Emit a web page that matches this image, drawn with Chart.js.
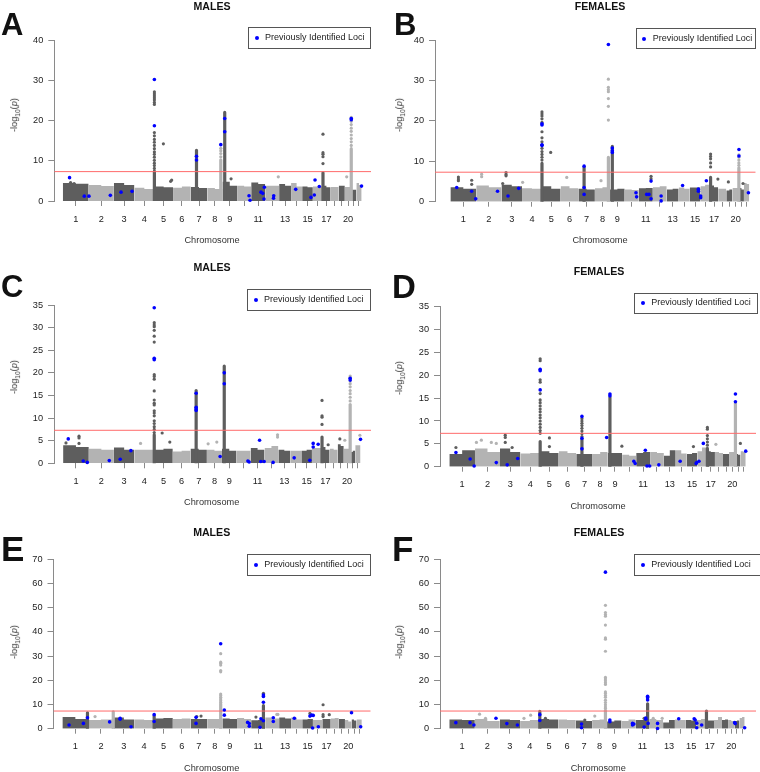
<!DOCTYPE html>
<html>
<head>
<meta charset="utf-8">
<script src="https://cdn.jsdelivr.net/npm/chart.js@4.4.1/dist/chart.umd.min.js"></script>
<style>
  body { margin: 0; background: #fff; font-family: "Liberation Sans", Arial, sans-serif; }
  #fig { position: relative; width: 760px; height: 772px; overflow: hidden; background: #fff; }
  #fig canvas { position: absolute; }
  .letter { position: absolute; font-weight: bold; line-height: 1; color: #111; }
  .title { position: absolute; font-weight: bold; font-size: 10.6px; color: #111; transform: translate(-50%, -50%); white-space: nowrap; }
  .xlab { position: absolute; font-size: 9.2px; color: #333; transform: translate(-50%, -50%); white-space: nowrap; }
  .ylab { position: absolute; font-size: 9.2px; color: #333; transform: translate(-50%, -50%) rotate(-90deg); white-space: nowrap; }
  .legend { position: absolute; box-sizing: border-box; border: 1px solid #555; background: #fff; font-size: 9px; color: #222; white-space: nowrap; }
  .legend .dot { position: absolute; left: 5.5px; width: 4px; height: 4px; border-radius: 50%; background: #0000ff; }
  .legend .txt { position: absolute; left: 16px; }
</style>
</head>
<body>
<div id="fig"></div>
<script>
// chromosome lengths (Mb) and which centres get a label
const CHR_LEN = [249, 243, 198, 191, 181, 171, 159, 146, 141, 136, 135, 134, 115, 107, 103, 90, 81, 78, 59, 63, 48, 51]
const CHR_LABELS = ['1', '2', '3', '4', '5', '6', '7', '8', '9', '', '11', '', '13', '', '15', '', '17', '', '', '20', '', '']
const GWS = 7.3

// band = top of the dense cloud per chromosome [first half, second half]
// cols = dense columns [chr, pos Mb, top], stacks = dotted points above them
// dots = isolated grey points, loci = previously identified (blue)
const bandA = [[4.5, 4.3], [4.0, 3.7], [4.5, 4.0], [3.3, 3.0], [3.6, 3.4], [3.3, 3.6], [3.5, 3.2], [3.2, 3.0], [4.8, 3.8], [3.8, 3.6], [4.6, 4.2], [3.8, 3.8], [4.2, 3.8], [4.5, 3.6], [3.6, 3.4], [3.6, 3.6], [3.8, 3.4], [3.5, 3.5], [3.8, 3.8], [3.5, 3.5], [2.8, 2.8], [4.5, 4.0]]
const colsA = [[5, 1.3, 7.4], [7, 55, 12.6], [8, 130, 10.2], [9, 22, 22.0], [17, 7.6, 7.0], [20, 62, 13.0]]
const stacksA = [
  [5, 1.3, [8.1, 8.8, 9.4, 10.1, 10.9, 11.6, 12.2, 13.0, 13.8, 14.6, 15.3, 16.2, 17.0, 24.0, 24.5, 25.1, 25.6, 26.1, 26.6, 27.1]],
  [8, 130, [11.0, 11.8, 12.5, 13.1]],
  [17, 7.6, [9.3, 11.0, 11.6, 12.0, 16.6]],
  [20, 62, [13.8, 14.7, 15.5, 16.4, 17.3, 18.1, 19.0, 19.8, 20.8]],
]
const dotsA = [[1, 109, 4.3], [1, 75, 4.6], [5, 88, 14.2], [5, 158, 4.9], [5, 168, 5.2], [9, 83, 5.5], [12, 126, 6.0], [20, 18, 6.0]]
const lociA = [[1, 65, 5.8], [1, 207, 1.2], [2, 3, 1.2], [2, 209, 1.4], [3, 69, 2.2], [3, 175, 2.4], [5, 1.3, 30.2], [5, 1.3, 18.7], [7, 55, 11.1], [7, 55, 10.2], [8, 130, 14.0], [9, 22, 20.5], [9, 22, 17.2], [10, 115, 1.3], [10, 125, 0.2], [11, 94, 2.2], [11, 111, 1.9], [11, 127, 3.4], [11, 123, 0.5], [12, 82, 1.3], [12, 80, 0.7], [14, 45, 2.9], [15, 85, 0.9], [16, 14, 1.5], [16, 21, 5.2], [16, 62, 3.6], [20, 62, 20.5], [20, 62, 20.2], [22, 50, 3.7]]

const bandB = [[3.6, 3.2], [4.0, 3.6], [4.2, 3.8], [3.3, 3.2], [3.8, 3.2], [3.8, 3.3], [3.2, 3.0], [3.3, 3.6], [3.0, 3.2], [3.0, 2.9], [3.3, 3.4], [3.6, 3.8], [3.0, 3.2], [3.5, 3.2], [3.5, 3.5], [3.8, 4.2], [4.0, 3.6], [3.2, 3.2], [2.8, 3.0], [3.4, 3.4], [3.4, 3.0], [4.6, 4.4]]
const colsB = [[5, 1.3, 9.5], [7, 55, 8.5], [8, 130, 11.0], [9, 22, 13.7], [17, 7.6, 6.0], [20, 62, 8.4]]
const stacksB = [
  [5, 1.3, [10.3, 11.0, 11.7, 12.4, 13.2, 14.0, 14.8, 15.8, 17.3, 19.6, 20.5, 21.2, 21.7, 22.2]],
  [8, 130, [20.2, 23.6, 25.5, 27.2, 27.7, 28.3, 30.3]],
  [17, 7.6, [8.6, 9.6, 10.6, 11.2, 11.8]],
  [20, 62, [9.0, 9.6, 10.3, 11.0, 11.6]],
]
const dotsB = [[1, 77, 6.1], [1, 77, 5.6], [1, 77, 5.2], [1, 205, 5.3], [1, 205, 4.3], [2, 52, 6.8], [2, 52, 6.2], [3, 44, 7.2], [3, 44, 6.7], [3, 44, 6.4], [3, 12, 4.5], [4, 6, 4.8], [5, 85, 12.2], [6, 59, 6.0], [8, 59, 5.2], [11, 118, 6.3], [11, 118, 5.7], [17, 78, 5.6], [19, 20, 4.9], [21, 39, 4.5]]
const lociB = [[1, 61, 3.5], [1, 205, 2.6], [1, 244, 0.7], [2, 205, 2.6], [3, 63, 1.4], [3, 166, 3.3], [5, 1.3, 19.3], [5, 1.3, 19.0], [5, 1.3, 14.1], [5, 1.3, 13.9], [7, 55, 8.8], [7, 55, 3.5], [7, 55, 1.8], [8, 130, 38.9], [9, 22, 13.3], [9, 22, 12.6], [9, 22, 12.2], [10, 109, 2.2], [10, 115, 1.2], [11, 76, 1.8], [11, 98, 1.8], [11, 118, 5.1], [11, 118, 0.7], [12, 80, 1.4], [12, 80, 0.2], [14, 38, 4.0], [15, 83, 3.1], [15, 83, 2.6], [16, 2, 1.4], [16, 2, 1.0], [16, 57, 5.2], [20, 63, 12.9], [20, 63, 11.3], [22, 43, 2.2]]

const bandC = [[4.0, 3.6], [3.2, 3.0], [3.5, 3.0], [3.0, 3.0], [3.0, 3.2], [2.6, 2.8], [3.2, 3.0], [3.0, 2.8], [3.2, 2.8], [2.8, 2.8], [3.4, 3.0], [3.4, 3.8], [3.0, 2.8], [2.8, 2.8], [2.8, 3.0], [3.4, 3.4], [3.6, 3.0], [3.2, 3.0], [4.2, 3.8], [3.2, 3.2], [2.5, 2.8], [4.0, 4.0]]
const colsC = [[5, 1.3, 6.3], [7, 55, 16.1], [9, 22, 21.5], [17, 7.6, 5.8], [20, 62, 13.0]]
const stacksC = [
  [5, 1.3, [6.8, 7.5, 8.1, 8.8, 9.4, 10.5, 11.1, 11.6, 12.9, 13.3, 14.0, 16.0, 18.6, 19.2, 19.6, 26.8, 28.1, 29.4, 30.2, 30.6, 31.1]],
  [17, 7.6, [8.6, 10.2, 10.5, 13.9]],
  [20, 62, [13.8, 14.6, 15.4, 16.1, 16.9, 17.6, 18.2, 19.0, 19.3]],
]
const dotsC = [[1, 154, 6.0], [1, 154, 5.6], [1, 154, 4.4], [1, 28, 4.5], [4, 60, 4.4], [5, 78, 6.7], [5, 152, 4.7], [8, 96, 4.7], [8, 12, 4.3], [12, 126, 6.3], [12, 126, 5.8], [17, 67, 4.1], [19, 21, 5.4], [20, 10, 5.1], [22, 45, 6.2]]
const lociC = [[1, 50, 5.4], [1, 195, 0.5], [1, 234, 0.2], [2, 198, 0.6], [3, 61, 0.9], [3, 164, 2.8], [5, 1.3, 34.4], [5, 1.3, 23.2], [5, 1.3, 22.9], [7, 55, 15.5], [7, 55, 12.4], [7, 55, 12.0], [7, 55, 11.7], [8, 128, 1.5], [9, 22, 20.0], [9, 22, 17.6], [10, 110, 0.5], [10, 122, 0.3], [11, 87, 5.1], [11, 99, 0.4], [11, 131, 0.4], [12, 83, 0.2], [14, 38, 1.2], [15, 82, 0.65], [16, 12, 3.6], [16, 12, 4.4], [16, 60, 4.2], [20, 62, 18.8], [20, 62, 18.4], [22, 51, 5.3]]

const bandD = [[2.8, 3.6], [4.0, 3.2], [4.0, 3.2], [2.9, 3.0], [3.4, 3.0], [3.4, 3.0], [2.8, 2.8], [2.8, 3.2], [3.0, 3.0], [2.6, 2.4], [3.0, 3.2], [3.2, 3.0], [2.4, 3.6], [3.6, 2.9], [2.8, 3.0], [3.4, 4.2], [3.4, 3.2], [3.2, 3.0], [2.8, 2.8], [3.2, 3.2], [2.8, 2.6], [3.4, 3.2]]
const colsD = [[5, 1.3, 5.5], [7, 55, 6.0], [9, 22, 15.2], [17, 7.6, 4.0], [20, 62, 13.8]]
const stacksD = [
  [5, 1.3, [7.3, 7.9, 8.6, 9.3, 10.0, 10.7, 11.3, 12.0, 12.6, 13.3, 14.0, 14.6, 16.0, 18.5, 19.0, 23.2, 23.6]],
  [7, 55, [6.6, 7.2, 7.8, 8.4, 9.0, 9.5, 10.0, 10.5]],
  [17, 7.6, [4.7, 5.4, 6.1, 6.8, 8.2, 8.6]],
]
const dotsD = [[1, 64, 4.2], [2, 14, 5.3], [2, 62, 5.8], [2, 159, 5.3], [2, 207, 5.1], [3, 51, 6.9], [3, 51, 6.4], [3, 51, 5.3], [3, 118, 4.2], [5, 91, 6.3], [5, 91, 4.4], [9, 138, 4.5], [15, 65, 4.4], [18, 9, 4.9], [21, 47, 5.1]]
const lociD = [[1, 64, 3.1], [1, 202, 1.7], [1, 241, 0.15], [2, 207, 0.9], [3, 70, 0.4], [3, 172, 1.8], [5, 1.3, 21.3], [5, 1.3, 21.0], [5, 1.3, 16.8], [7, 55, 11.0], [7, 55, 6.2], [7, 55, 3.9], [8, 136, 6.4], [9, 22, 15.9], [9, 22, 15.5], [10, 113, 1.2], [10, 126, 0.7], [11, 89, 3.6], [11, 105, 0.15], [11, 131, 0.15], [12, 85, 0.4], [14, 43, 1.2], [15, 91, 0.7], [15, 97, 0.9], [16, 16, 1.2], [16, 58, 5.1], [20, 62, 15.9], [20, 62, 14.2], [22, 51, 3.4]]

const bandE = [[4.8, 4.0], [3.6, 3.8], [4.6, 3.8], [3.8, 3.6], [4.2, 4.4], [4.0, 4.2], [4.0, 4.0], [4.0, 4.0], [4.2, 4.0], [4.4, 4.0], [3.5, 3.6], [4.6, 4.2], [4.6, 4.2], [4.6, 3.8], [3.8, 4.0], [3.6, 3.6], [4.0, 4.0], [4.2, 4.4], [4.0, 4.0], [3.6, 3.0], [3.8, 3.4], [3.8, 3.8]]
const colsE = [[1, 241, 6.6], [2, 240, 7.0], [5, 1.3, 5.4], [8, 130, 10.3], [11, 118, 9.5]]
const stacksE = [
  [8, 130, [10.9, 11.6, 12.3, 13.0, 13.7, 14.3, 23.5, 24.0, 26.3, 27.0, 27.5, 31.0]],
  [11, 118, [13.5, 14.0, 14.6]],
  [17, 7.6, [5.0, 5.8, 9.9]],
]
const dotsE = [[2, 65, 5.0], [7, 59, 5.0], [7, 100, 5.2], [11, 46, 4.8], [12, 112, 5.9], [12, 122, 5.9], [15, 74, 6.3], [17, 67, 5.8], [20, 63, 7.0]]
const lociE = [[1, 64, 1.5], [1, 202, 2.2], [1, 241, 4.5], [2, 205, 2.8], [3, 63, 3.9], [3, 63, 4.3], [3, 168, 0.8], [5, 1.3, 5.8], [5, 1.3, 3.0], [7, 52, 4.7], [7, 52, 2.2], [8, 130, 35.1], [9, 19, 7.7], [9, 19, 5.6], [10, 102, 2.6], [10, 118, 2.1], [10, 118, 1.0], [11, 85, 0.6], [11, 94, 4.1], [11, 117, 3.3], [11, 118, 13.9], [11, 118, 13.3], [11, 118, 10.9], [12, 78, 4.5], [12, 78, 3.0], [14, 31, 4.3], [15, 74, 5.2], [15, 90, 5.6], [15, 100, 0.3], [16, 3, 5.5], [16, 52, 0.8], [20, 63, 6.6], [22, 40, 0.8]]

const bandF = [[3.8, 3.6], [4.0, 3.2], [3.8, 3.6], [3.2, 3.6], [4.0, 3.8], [3.8, 3.6], [3.4, 3.2], [3.6, 3.8], [3.0, 3.4], [3.2, 3.8], [3.6, 3.6], [4.0, 3.6], [2.6, 3.6], [3.8, 3.6], [3.6, 3.4], [3.6, 4.0], [3.4, 3.4], [3.6, 4.8], [3.6, 3.8], [3.6, 3.2], [3.2, 3.4], [4.4, 4.8]]
const colsF = [[5, 1.3, 7.2], [8, 130, 7.5], [11, 118, 10.3], [17, 7.6, 7.3]]
const stacksF = [
  [8, 130, [8.3, 9.0, 9.9, 10.8, 11.8, 13.0, 13.7, 14.5, 15.2, 18.3, 19.0, 19.8, 20.5, 21.2, 32.0, 37.0, 37.5, 42.8, 46.5, 47.2, 48.0, 51.0]],
  [11, 118, [13.0]],
]
const dotsF = [[2, 46, 6.0], [2, 104, 4.3], [4, 38, 4.3], [4, 103, 5.6], [5, 56, 4.3], [7, 88, 3.6], [8, 26, 5.2], [11, 84, 4.3], [12, 38, 4.3], [12, 125, 4.3]]
const lociF = [[1, 64, 2.5], [1, 202, 2.5], [1, 240, 1.5], [2, 206, 4.3], [3, 69, 2.1], [3, 172, 1.5], [5, 1.3, 5.8], [5, 1.3, 3.4], [7, 56, 1.9], [7, 56, 0.4], [8, 130, 64.7], [9, 27, 3.6], [9, 27, 2.9], [10, 107, 2.2], [10, 120, 1.9], [10, 107, 1.5], [11, 84, 0.7], [11, 100, 3.9], [11, 100, 4.4], [11, 123, 2.2], [11, 118, 13.4], [11, 118, 12.8], [11, 118, 11.9], [12, 80, 2.2], [12, 80, 0.1], [14, 37, 4.1], [15, 81, 4.1], [15, 91, 3.6], [16, 3, 2.3], [16, 3, 0.4], [16, 51, 1.5], [20, 64, 2.5], [20, 70, 2.1], [22, 51, 0.4]]

// page layout (pixels)
const PANELS = [
  { id: 'A', sex: 'MALES', cell: [0, 0, 380, 250], yAxisX: 54.3, y0: 201, yTopPx: 40, top: 40, step: 10, chr1Px: 62.8, ppm: 0.1038, right: 371,
    legend: [248, 27.3, 123, 22], title: [212, 6.3], xlab: [212, 240], ylab: [15, 115], letter: [2, 13, 31],
    band: bandA, cols: colsA, stacks: stacksA, dots: dotsA, loci: lociA },
  { id: 'B', sex: 'FEMALES', cell: [380, 0, 380, 250], yAxisX: 435, y0: 201.7, yTopPx: 40, top: 40, step: 10, chr1Px: 450.4, ppm: 0.1038, right: 755.7,
    legend: [635.7, 28.3, 120, 21], title: [600, 6.3], xlab: [600, 240], ylab: [400, 115], letter: [395, 13, 31],
    band: bandB, cols: colsB, stacks: stacksB, dots: dotsB, loci: lociB },
  { id: 'C', sex: 'MALES', cell: [0, 250, 380, 260], yAxisX: 54, y0: 463.3, yTopPx: 305, top: 35, step: 5, chr1Px: 63.1, ppm: 0.1033, right: 371,
    legend: [247, 289.3, 124, 21.7], title: [212, 266.7], xlab: [211.7, 502], ylab: [15, 377], letter: [2, 275, 31],
    band: bandC, cols: colsC, stacks: stacksC, dots: dotsC, loci: lociC },
  { id: 'D', sex: 'FEMALES', cell: [380, 250, 380, 260], yAxisX: 440, y0: 466.7, yTopPx: 306.7, top: 35, step: 5, chr1Px: 449.4, ppm: 0.1036, right: 758,
    legend: [634.3, 292.7, 123.7, 21.6], title: [599, 270.7], xlab: [598, 506], ylab: [400, 378], letter: [393, 274, 33],
    band: bandD, cols: colsD, stacks: stacksD, dots: dotsD, loci: lociD },
  { id: 'E', sex: 'MALES', cell: [0, 510, 380, 262], yAxisX: 53.5, y0: 728.7, yTopPx: 559.3, top: 70, step: 10, chr1Px: 62.4, ppm: 0.104, right: 370.7,
    legend: [247.3, 554.3, 123.4, 21.7], title: [211.7, 532], xlab: [211.7, 767.7], ylab: [15, 642], letter: [2, 536, 35],
    band: bandE, cols: colsE, stacks: stacksE, dots: dotsE, loci: lociE },
  { id: 'F', sex: 'FEMALES', cell: [380, 510, 380, 262], yAxisX: 440, y0: 728.7, yTopPx: 559.3, top: 70, step: 10, chr1Px: 449.4, ppm: 0.1039, right: 760,
    legend: [634.3, 554.3, 127, 21.7], title: [599, 532], xlab: [598.3, 768], ylab: [400, 642], letter: [393, 536, 35],
    band: bandF, cols: colsF, stacks: stacksF, dots: dotsF, loci: lociF },
]

const DARK = '#5e5e5e'
const LIGHT = '#b3b3b3'
const BLUE = '#0000ff'
const AXIS = '#8a8a8a'

const CHR_START = []
let acc = 0
for (const len of CHR_LEN) { CHR_START.push(acc); acc += len }
const CHR_MID = CHR_LEN.map((len, i) => CHR_START[i] + len / 2)
const gpos = (chr, pos) => CHR_START[chr - 1] + pos
const shade = (chr) => (chr % 2 ? DARK : LIGHT)

Chart.defaults.font.family = '"Liberation Sans", Arial, sans-serif'

function bandData(band, parity) {
  const pts = []
  band.forEach(([h1, h2], i) => {
    if ((i + 1) % 2 !== parity) return
    const s = CHR_START[i], e = s + CHR_LEN[i], m = (s + e) / 2
    pts.push({ x: s, y: h1 }, { x: m, y: h1 }, { x: m, y: h2 }, { x: e, y: h2 }, { x: e, y: null })
  })
  return pts
}

function colData(cols, parity) {
  const pts = []
  for (const [chr, pos, top] of cols) {
    if (chr % 2 !== parity) continue
    const x = gpos(chr, pos)
    pts.push({ x, y: 0 }, { x, y: top }, { x, y: null })
  }
  return pts
}

function dotData(p) {
  const pts = p.dots.map(([chr, pos, y]) => ({ x: gpos(chr, pos), y, c: shade(chr) }))
  for (const [chr, pos, vals] of p.stacks) {
    for (const y of vals) pts.push({ x: gpos(chr, pos), y, c: shade(chr) })
  }
  return pts
}

function addText(cls, text, x, y, extra) {
  const el = document.createElement('div')
  el.className = cls
  el.innerHTML = text
  el.style.left = x + 'px'
  el.style.top = y + 'px'
  if (extra) Object.assign(el.style, extra)
  fig.appendChild(el)
  return el
}

const fig = document.getElementById('fig')

for (const p of PANELS) {
  const [cl, ct, cw, ch] = p.cell
  const canvas = document.createElement('canvas')
  canvas.width = cw
  canvas.height = ch
  canvas.style.left = cl + 'px'
  canvas.style.top = ct + 'px'
  fig.appendChild(canvas)

  const xMin = -(p.chr1Px - p.yAxisX) / p.ppm
  const xMax = (p.right - p.chr1Px) / p.ppm
  const yTicks = []
  for (let v = 0; v <= p.top; v += p.step) yTicks.push({ value: v })

  new Chart(canvas, {
    type: 'scatter',
    data: {
      datasets: [
        { type: 'scatter', data: p.loci.map(([chr, pos, y]) => ({ x: gpos(chr, pos), y })),
          pointRadius: 1.8, backgroundColor: BLUE, borderWidth: 0, order: 0, clip: false },
        { type: 'line', data: [{ x: xMin, y: GWS }, { x: xMax, y: GWS }],
          borderColor: '#ff6a6a', borderWidth: 1, pointRadius: 0, order: 1 },
        { type: 'scatter', data: dotData(p), pointRadius: 1.6, borderWidth: 0,
          backgroundColor: (ctx) => (ctx.raw ? ctx.raw.c : DARK), order: 2, clip: false },
        { type: 'line', data: colData(p.cols, 1), borderColor: DARK, borderWidth: 3.2, borderCapStyle: 'round', pointRadius: 0, order: 3 },
        { type: 'line', data: colData(p.cols, 0), borderColor: LIGHT, borderWidth: 3.2, borderCapStyle: 'round', pointRadius: 0, order: 3 },
        { type: 'line', data: bandData(p.band, 1), fill: 'origin', backgroundColor: DARK, borderWidth: 0, pointRadius: 0, order: 4 },
        { type: 'line', data: bandData(p.band, 0), fill: 'origin', backgroundColor: LIGHT, borderWidth: 0, pointRadius: 0, order: 4 },
      ],
    },
    options: {
      responsive: false,
      animation: false,
      devicePixelRatio: 1,
      events: [],
      layout: { padding: { top: p.yTopPx - ct, right: cl + cw - p.right, left: 0, bottom: 0 } },
      plugins: { legend: { display: false }, tooltip: { enabled: false } },
      scales: {
        x: {
          type: 'linear', min: xMin, max: xMax, bounds: 'data',
          afterBuildTicks: (s) => { s.ticks = CHR_MID.map((v) => ({ value: v })) },
          afterFit: (s) => { s.height = ct + ch - p.y0 },
          grid: { drawOnChartArea: false, drawTicks: true, tickLength: 5, color: AXIS },
          border: { display: false },
          ticks: { autoSkip: false, maxRotation: 0, padding: 7.5, color: '#222', font: { size: 9.2 },
            callback: (v, i) => CHR_LABELS[i] },
        },
        y: {
          min: 0, max: p.top, bounds: 'data',
          afterBuildTicks: (s) => { s.ticks = yTicks.map((t) => ({ ...t })) },
          afterFit: (s) => { s.width = p.yAxisX - cl },
          grid: { drawOnChartArea: false, drawTicks: true, tickLength: 6, color: AXIS },
          border: { display: true, color: AXIS, width: 1 },
          ticks: { padding: 5, color: '#222', font: { size: 9.2 } },
        },
      },
    },
  })

  const [lx, ly, fs] = p.letter
  addText('letter', p.id, lx - fs * 0.03, ly - fs * 0.13, { fontSize: fs + 'px' })
  addText('title', p.sex, p.title[0], p.title[1])
  addText('xlab', 'Chromosome', p.xlab[0], p.xlab[1])
  addText('ylab', '-log<sub style="font-size:6.5px">10</sub>(<i>p</i>)', p.ylab[0], p.ylab[1])

  const [gx, gy, gw, gh] = p.legend
  const lg = addText('legend', '', gx, gy, { width: gw + 'px', height: gh + 'px' })
  const dot = document.createElement('span')
  dot.className = 'dot'
  dot.style.top = (gh / 2 - 3) + 'px'
  lg.appendChild(dot)
  const txt = document.createElement('span')
  txt.className = 'txt'
  txt.textContent = 'Previously Identified Loci'
  txt.style.top = (gh / 2 - 7) + 'px'
  lg.appendChild(txt)
}
</script>
</body>
</html>
